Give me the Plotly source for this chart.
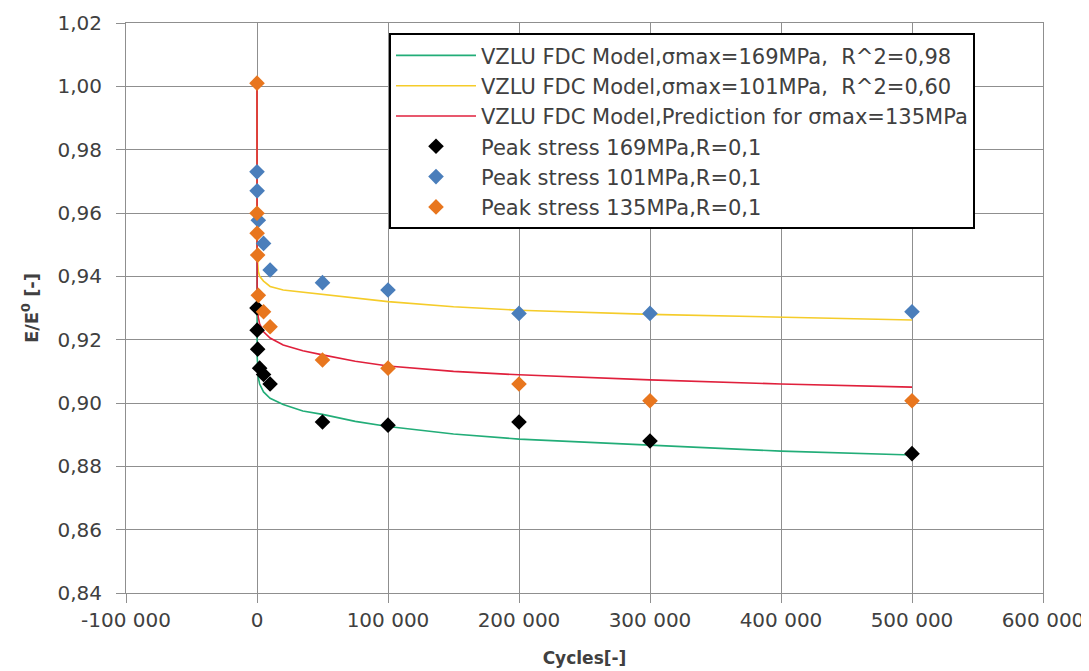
import plotly.graph_objects as go

# ---- data ----
model_cycles = [0, 100, 1000, 2000, 5000, 10000, 20000, 35000, 50000, 75000,
                100000, 150000, 200000, 300000, 400000, 500000]
model_169 = [1.000, 0.915, 0.908, 0.906, 0.9035, 0.9015, 0.8995, 0.8975, 0.8964, 0.8942,
             0.8926, 0.8902, 0.8886, 0.8866, 0.8848, 0.8836]
model_101 = [1.000, 0.947, 0.9415, 0.9400, 0.9385, 0.9368, 0.9357, 0.9350, 0.9345, 0.9331,
             0.9320, 0.9304, 0.9293, 0.9280, 0.9270, 0.9262]
model_135 = [1.000, 0.934, 0.927, 0.925, 0.9225, 0.9205, 0.9183, 0.9165, 0.9152, 0.9132,
             0.9117, 0.9100, 0.9089, 0.9073, 0.9060, 0.9050]

cycles_169 = [1, 100, 500, 2000, 5000, 10000, 50000, 100000, 200000, 300000, 500000]
peak_169 = [0.930, 0.923, 0.917, 0.911, 0.909, 0.906, 0.894, 0.893, 0.894, 0.888, 0.884]

cycles_101 = [1, 100, 1000, 5000, 10000, 50000, 100000, 200000, 300000, 500000]
peak_101 = [0.973, 0.967, 0.9577, 0.9504, 0.942, 0.938, 0.9357, 0.9283, 0.9283, 0.9288]

cycles_135 = [1, 10, 100, 500, 1000, 5000, 10000, 50000, 100000, 200000, 300000, 500000]
peak_135 = [1.001, 0.9599, 0.9536, 0.9467, 0.934, 0.9288, 0.9241, 0.9136, 0.911, 0.906,
            0.9007, 0.9007]

x_tickvals = [-100000, 0, 100000, 200000, 300000, 400000, 500000, 600000]
x_ticktext = ["-100 000", "0", "100 000", "200 000", "300 000", "400 000", "500 000", "600 000"]
y_tickvals = [0.84, 0.86, 0.88, 0.90, 0.92, 0.94, 0.96, 0.98, 1.00, 1.02]
y_ticktext = ["0,84", "0,86", "0,88", "0,90", "0,92", "0,94", "0,96", "0,98", "1,00", "1,02"]

names = [
    "VZLU FDC Model,σmax=169MPa,\u00a0\u00a0R^2=0,98",
    "VZLU FDC Model,σmax=101MPa,\u00a0\u00a0R^2=0,60",
    "VZLU FDC Model,Prediction for σmax=135MPa",
    "Peak stress 169MPa,R=0,1",
    "Peak stress 101MPa,R=0,1",
    "Peak stress 135MPa,R=0,1",
]

GREEN = "#22ad78"
YELLOW = "#f5cc2a"
RED = "#e0203c"
BLACK = "#000000"
BLUE = "#4a7ebb"
ORANGE = "#e8761e"
GRID = "#8f8f8f"

fig = go.Figure()
fig.add_trace(go.Scatter(x=model_cycles, y=model_169, mode="lines", name=names[0],
                         line=dict(color=GREEN, width=1.6)))
fig.add_trace(go.Scatter(x=model_cycles, y=model_101, mode="lines", name=names[1],
                         line=dict(color=YELLOW, width=1.6)))
fig.add_trace(go.Scatter(x=model_cycles, y=model_135, mode="lines", name=names[2],
                         line=dict(color=RED, width=1.6)))
fig.add_trace(go.Scatter(x=cycles_169, y=peak_169, mode="markers", name=names[3],
                         marker=dict(symbol="diamond", size=12, color=BLACK)))
fig.add_trace(go.Scatter(x=cycles_101, y=peak_101, mode="markers", name=names[4],
                         marker=dict(symbol="diamond", size=12, color=BLUE)))
fig.add_trace(go.Scatter(x=cycles_135, y=peak_135, mode="markers", name=names[5],
                         marker=dict(symbol="diamond", size=12, color=ORANGE)))

# the page body has an 8px margin, so the figure is drawn offset by (8, 8)
fig.update_layout(
    width=1081, height=663,
    margin=dict(l=118, r=46, t=15, b=78),
    paper_bgcolor="white", plot_bgcolor="white",
    font=dict(family="DejaVu Sans", size=20, color="#404040"),
    showlegend=True,
    legend=dict(
        x=0.2868, y=0.982, xanchor="left", yanchor="top",
        bgcolor="white", bordercolor="#000000", borderwidth=2,
        font=dict(family="DejaVu Sans", size=21, color="#404040"),
        itemwidth=80, tracegroupgap=0,
    ),
    xaxis=dict(
        range=[-100000, 600000],
        tickvals=x_tickvals, ticktext=x_ticktext,
        showgrid=True, gridcolor=GRID, gridwidth=1,
        showline=True, linecolor=GRID, linewidth=1, mirror=True,
        ticks="outside", ticklen=9, tickcolor=GRID,
        zeroline=False, automargin=False,
        title=dict(text="<b>Cycles[-]</b>", font=dict(family="DejaVu Sans", size=17, color="#404040"),
                   standoff=21),
    ),
    yaxis=dict(
        range=[0.84, 1.02],
        tickvals=y_tickvals, ticktext=y_ticktext,
        showgrid=True, gridcolor=GRID, gridwidth=1,
        showline=True, linecolor=GRID, linewidth=1, mirror=True,
        ticks="outside", ticklen=9, tickcolor=GRID,
        ticklabelstandoff=10,
        zeroline=False, automargin=False,
        title=dict(text="<b>E/E<sup>0</sup> [-]</b>", font=dict(family="DejaVu Sans", size=18, color="#404040"),
                   standoff=14),
    ),
)

fig.write_html("out.html")
